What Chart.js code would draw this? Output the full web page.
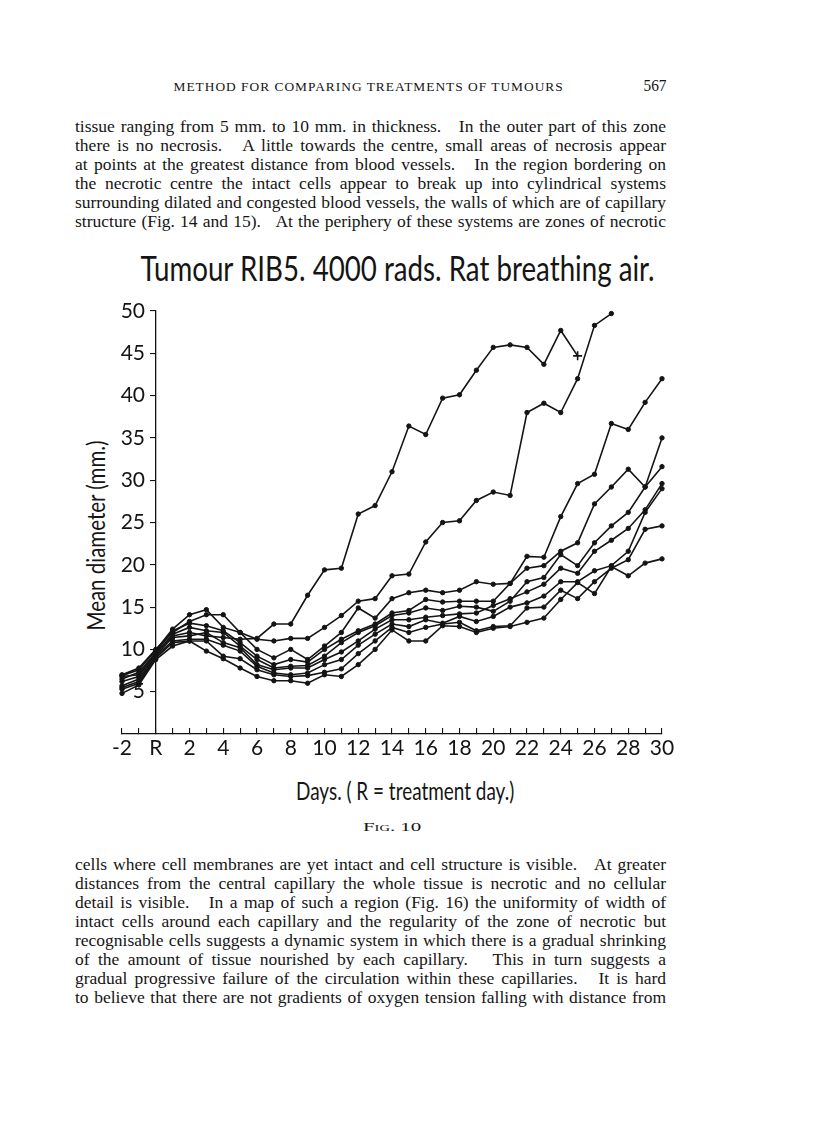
<!DOCTYPE html>
<html><head><meta charset="utf-8">
<script src="https://cdn.jsdelivr.net/npm/chart.js@4/dist/chart.umd.min.js"></script>
<style>
html,body{margin:0;padding:0;background:#fff;}
body{width:816px;height:1136px;position:relative;overflow:hidden;color:#151515;}
.txt{position:absolute;left:75px;width:591px;font-family:"Liberation Serif",serif;font-size:17.5px;line-height:19px;}
.txt div{text-align:left;height:19px;white-space:nowrap;}
.txt div.j{text-align:justify;text-align-last:justify;white-space:normal;}
.fit{position:absolute;white-space:nowrap;font-family:Lato,sans-serif;line-height:1;transform-origin:center center;}
#chartBox{position:absolute;left:0;top:290px;width:816px;height:480px;}
</style></head>
<body>
<div class="fit" data-cx="368" data-cy="87" data-w="390" style="font-family:'Liberation Serif',serif;font-size:13.5px;letter-spacing:1px;">METHOD FOR COMPARING TREATMENTS OF TUMOURS</div>
<div class="fit" data-cx="655" data-cy="86" data-w="23" style="font-family:'Liberation Serif',serif;font-size:16px;">567</div>

<div class="txt" style="top:117px;">
<div>tissue ranging from 5 mm. to 10 mm. in thickness.&nbsp;&nbsp; In the outer part of this zone</div>
<div>there is no necrosis.&nbsp;&nbsp; A little towards the centre, small areas of necrosis appear</div>
<div>at points at the greatest distance from blood vessels.&nbsp;&nbsp; In the region bordering on</div>
<div>the necrotic centre the intact cells appear to break up into cylindrical systems</div>
<div>surrounding dilated and congested blood vessels, the walls of which are of capillary</div>
<div>structure (Fig. 14 and 15).&nbsp;&nbsp; At the periphery of these systems are zones of necrotic</div>
</div>

<div class="fit" data-cx="397" data-cy="268" data-w="514" style="font-size:34px;">Tumour RIB5. 4000 rads. Rat breathing air.</div>
<div class="fit" data-cx="95" data-cy="535" data-w="190" data-rot="-90" style="font-size:25px;">Mean diameter (mm.)</div>

<div id="chartBox"><canvas id="c"></canvas></div>

<div class="fit" data-cx="405" data-cy="790" data-w="218" style="font-size:25px;">Days. ( R = treatment day.)</div>
<div class="fit" data-cx="392" data-cy="826" data-w="58" style="font-family:'Liberation Serif',serif;font-size:13px;font-variant:small-caps;">Fig. 10</div>

<div class="txt" style="top:855px;">
<div>cells where cell membranes are yet intact and cell structure is visible.&nbsp;&nbsp; At greater</div>
<div>distances from the central capillary the whole tissue is necrotic and no cellular</div>
<div>detail is visible.&nbsp;&nbsp; In a map of such a region (Fig. 16) the uniformity of width of</div>
<div>intact cells around each capillary and the regularity of the zone of necrotic but</div>
<div>recognisable cells suggests a dynamic system in which there is a gradual shrinking</div>
<div>of the amount of tissue nourished by each capillary.&nbsp;&nbsp; This in turn suggests a</div>
<div>gradual progressive failure of the circulation within these capillaries.&nbsp;&nbsp; It is hard</div>
<div>to believe that there are not gradients of oxygen tension falling with distance from</div>
</div>

<script>
// ---- data (days -2 .. 30; R = day 0) ----
const days = [-2,-1,0,1,2,3,4,5,6,7,8,9,10,11,12,13,14,15,16,17,18,19,20,21,22,23,24,25,26,27,28,29,30];
const tumourA = [6.5,7.3,9.6,11.6,12.0,11.6,11.4,11.2,11.3,13.0,13.0,16.4,19.4,19.6,26.0,27.0,31.0,36.4,35.4,39.7,40.1,43.0,45.7,46.0,45.7,43.7,47.7,44.7,null,null,null,null,null];
const tumourB = [7.0,7.8,10.0,12.0,13.3,14.1,14.1,12.0,11.2,11.0,11.3,11.3,12.6,14.0,15.7,16.0,18.7,18.9,22.7,25.0,25.2,27.6,28.6,28.2,38.0,39.1,38.0,42.0,48.3,49.7,null,null,null];
const tumourC = [6.9,7.6,9.9,12.4,14.1,14.7,12.6,12.0,10.0,9.0,10.0,8.8,10.4,12.0,14.9,13.7,16.0,16.7,17.0,16.7,17.0,18.0,17.7,17.8,21.0,20.9,25.7,29.6,30.7,36.7,36.0,39.2,42.0];
const tumourD = [6.8,7.0,9.7,12.2,13.1,12.8,12.2,10.8,9.2,8.2,8.8,8.5,10.0,11.2,12.2,13.0,14.3,14.6,15.9,15.6,15.7,15.7,15.7,17.8,19.6,19.9,21.6,22.6,27.2,29.2,31.3,29.2,35.0];
const tumourE = [6.2,6.8,9.5,11.8,12.6,12.2,12.0,10.4,8.8,7.8,8.0,8.1,9.2,10.8,12.0,12.8,14.0,14.3,14.9,14.6,15.1,15.0,14.5,15.7,18.0,18.5,21.2,19.9,22.6,24.6,26.2,29.2,31.6];
const tumourF = [5.7,6.5,9.3,11.4,11.6,12.0,10.8,10.2,8.2,7.6,7.8,7.8,8.8,9.7,11.0,12.4,13.5,13.5,13.8,14.0,14.2,14.3,15.2,16.0,16.8,17.7,19.6,19.0,21.6,22.9,24.3,26.5,29.6];
const tumourG = [5.5,6.2,9.2,11.0,11.2,11.2,10.5,9.8,8.0,7.2,7.0,7.2,8.2,8.8,10.5,11.8,13.0,12.7,13.5,13.1,13.9,13.3,13.9,15.0,15.5,16.3,18.0,18.0,19.3,19.9,21.6,26.2,29.0];
const tumourH = [5.3,6.0,9.0,10.8,11.0,11.0,9.2,8.9,7.6,7.0,6.8,6.9,7.3,7.7,9.5,11.0,12.6,12.0,12.6,13.0,13.2,12.2,12.7,12.8,14.9,15.0,17.0,16.0,18.0,19.6,20.6,24.2,24.6];
const tumourI = [4.8,5.8,8.8,10.4,11.0,9.8,8.9,7.8,6.8,6.3,6.3,6.0,7.0,6.8,8.2,10.0,12.3,11.0,11.0,12.8,12.7,12.0,12.5,12.7,13.2,13.7,15.9,17.9,16.6,19.8,18.7,20.2,20.7];
const allSeries = [tumourA,tumourB,tumourC,tumourD,tumourE,tumourF,tumourG,tumourH,tumourI];
const yTickValues = [5,10,15,20,25,30,35,40,45,50];
const xTickLabels = ['-2','R','2','4','6','8','10','12','14','16','18','20','22','24','26','28','30'];

// ---- fit text blocks ----
document.querySelectorAll('.fit').forEach(el=>{
  const w = el.offsetWidth, h = el.offsetHeight;
  const tw = +el.dataset.w, cx = +el.dataset.cx, cy = +el.dataset.cy, rot = +(el.dataset.rot||0);
  el.style.left = (cx - w/2) + 'px';
  el.style.top = (cy - h/2) + 'px';
  el.style.transform = 'rotate(' + rot + 'deg) scaleX(' + (tw/w) + ')';
});
// ---- body lines: keep each line on one line, then justify ----
document.querySelectorAll('.txt div').forEach(d=>{
  const s = document.createElement('span');
  s.innerHTML = d.innerHTML; d.innerHTML = ''; d.appendChild(s);
  const w = s.getBoundingClientRect().width;
  const limit = 584;
  if (w > limit) {
    const n = s.textContent.length;
    d.style.letterSpacing = ((limit - w) / n).toFixed(3) + 'px';
  }
  d.innerHTML = s.innerHTML;
  d.className = 'j';
});

const INK = '#141414';
const datasets = allSeries.map((s, k) => {
  const pts = [];
  s.forEach((v, i) => { if (v !== null) pts.push({x: days[i], y: v}); });
  const last = pts.length - 1;
  const isA = (k === 0);
  return {
    data: pts,
    borderColor: INK,
    borderWidth: 1.6,
    backgroundColor: INK,
    pointBackgroundColor: INK,
    pointBorderColor: INK,
    pointStyle: ctx => (isA && ctx.dataIndex === last) ? 'cross' : 'circle',
    pointRadius: ctx => (isA && ctx.dataIndex === last) ? 4.5 : 2.2,
    pointBorderWidth: ctx => (isA && ctx.dataIndex === last) ? 1.6 : 1,
    tension: 0,
    clip: false
  };
});

new Chart(document.getElementById('c'), {
  type: 'line',
  data: { datasets },
  options: {
    responsive: true,
    maintainAspectRatio: false,
    animation: false,
    layout: { padding: { left: 122, right: 154, top: 21, bottom: 0 } },
    plugins: { legend: { display: false }, tooltip: { enabled: false }, title: { display: false } },
    scales: {
      x: {
        type: 'linear',
        position: 'bottom',
        min: -2, max: 30,
        afterFit: s => { s.height = 36; },
        border: { display: true, color: INK, width: 1.3 },
        grid: { display: true, drawOnChartArea: false, drawTicks: true, tickLength: -6, color: INK, lineWidth: 1.1 },
        ticks: {
          stepSize: 1, autoSkip: false, maxRotation: 0, padding: 8,
          color: INK, font: { family: 'Lato', size: 21 },
          callback: v => (v % 2 === 0) ? xTickLabels[(v + 2) / 2] : ''
        }
      },
      y: {
        type: 'linear',
        position: { x: 0 },
        min: 0, max: 50,
        afterFit: s => { s.width = 0; },
        border: { display: true, color: INK, width: 1.3 },
        grid: { display: true, drawOnChartArea: false, drawTicks: true, tickLength: 5, color: INK, lineWidth: 1.1 },
        ticks: {
          stepSize: 5, padding: 0, color: INK, font: { family: 'Lato', size: 21 },
          callback: v => yTickValues.includes(v) ? (String(v) + '\u00a0\u00a0') : null
        }
      }
    }
  }
});
</script>
</body></html>
